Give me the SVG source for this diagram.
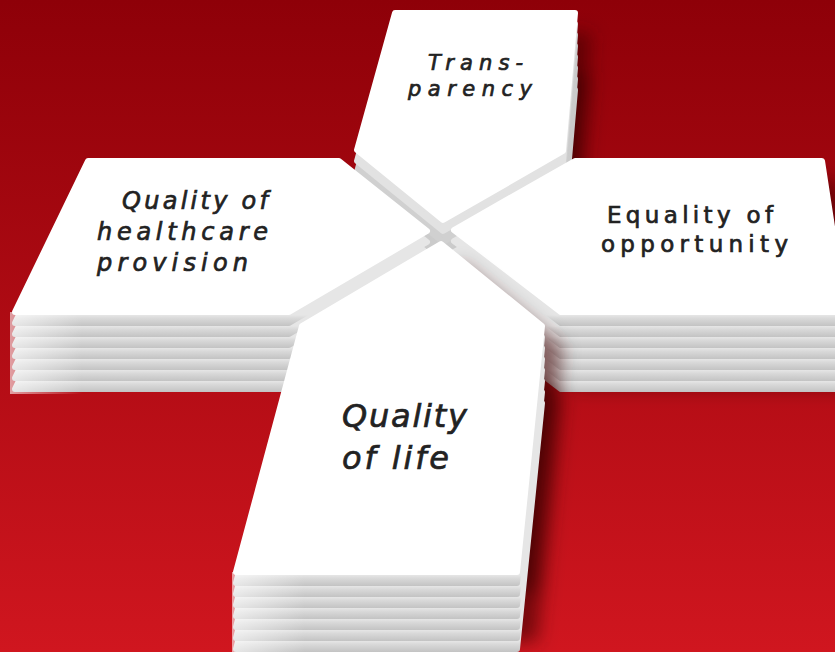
<svg xmlns="http://www.w3.org/2000/svg" xmlns:xlink="http://www.w3.org/1999/xlink" width="835" height="652" viewBox="0 0 835 652">
<style>
.face{fill:#ffffff;stroke:#ffffff;stroke-width:6;stroke-linejoin:round}
.stT{stroke-width:6;stroke-linejoin:round}
.sh{fill:#3a0003;opacity:0.6}
.lbl{font-family:"DejaVu Sans","Open Sans",sans-serif;fill:#222222;stroke:#222222;stroke-width:0.7}
.it{font-style:italic}
</style>
<defs>
  <linearGradient id="bg" x1="0" y1="0" x2="0" y2="1">
    <stop offset="0" stop-color="#8e0008"/>
    <stop offset="1" stop-color="#d0161f"/>
  </linearGradient>
  <linearGradient id="gLR" gradientUnits="userSpaceOnUse" x1="0" y1="304" x2="0" y2="315">
    <stop offset="0" stop-color="#e6e6e6"/>
    <stop offset="0.3" stop-color="#d9d9d9"/>
    <stop offset="1" stop-color="#c3c3c3"/>
  </linearGradient>
  <linearGradient id="gB" gradientUnits="userSpaceOnUse" x1="0" y1="564" x2="0" y2="575">
    <stop offset="0" stop-color="#e6e6e6"/>
    <stop offset="0.3" stop-color="#d9d9d9"/>
    <stop offset="1" stop-color="#c3c3c3"/>
  </linearGradient>
  <linearGradient id="hl" x1="0" y1="0" x2="1" y2="0">
    <stop offset="0" stop-color="#ffffff" stop-opacity="0.6"/>
    <stop offset="0.25" stop-color="#ffffff" stop-opacity="0"/>
  </linearGradient>
  <filter id="blur" x="-40%" y="-40%" width="180%" height="180%">
    <feGaussianBlur stdDeviation="9"/>
  </filter>
  <path id="fT" d="M395,13 L575,13 L563,151 L443,220 L357,150 Z"/>
  <path id="fL" d="M88,161 L339,161 L427,231 L289,312 L15,312 Z"/>
  <path id="fR" d="M575,161 L822,161 L845,312 L561,312 L454,230 Z"/>
  <path id="fB" d="M302,326 L441,244 L542,326 L517,572 L236,572 Z"/>
</defs>

<rect x="0" y="0" width="835" height="652" fill="url(#bg)"/>

<g id="card-transparency">
  <g filter="url(#blur)">
    <use xlink:href="#fT" class="sh" transform="translate(16,20)"/>
    <use xlink:href="#fT" class="sh" transform="translate(16,60)"/>
  </g>
  <g fill="#cbcbcb" stroke="#cbcbcb" class="stT">
    <use xlink:href="#fT" transform="translate(0,77)"/>
    <use xlink:href="#fT" transform="translate(0,66)"/>
    <use xlink:href="#fT" transform="translate(0,55)"/>
    <use xlink:href="#fT" transform="translate(0,44)"/>
    <use xlink:href="#fT" transform="translate(0,33)"/>
    <use xlink:href="#fT" transform="translate(0,22)" fill="#d0d0d0" stroke="#d0d0d0"/>
    <use xlink:href="#fT" transform="translate(0,11)" fill="#e2e2e2" stroke="#e2e2e2"/>
  </g>
  <use xlink:href="#fT" class="face"/>
  <text class="lbl it" font-size="21" x="428" y="70" textLength="95" lengthAdjust="spacing">Trans-</text>
  <text class="lbl it" font-size="21" x="408" y="96" textLength="124" lengthAdjust="spacing">parency</text>
</g>

<g id="card-healthcare">
  <g fill="url(#gLR)" stroke="url(#gLR)" class="stT">
    <use xlink:href="#fL" transform="translate(0,77)"/>
    <use xlink:href="#fL" transform="translate(0,66)"/>
    <use xlink:href="#fL" transform="translate(0,55)"/>
    <use xlink:href="#fL" transform="translate(0,44)"/>
    <use xlink:href="#fL" transform="translate(0,33)"/>
    <use xlink:href="#fL" transform="translate(0,22)"/>
    <use xlink:href="#fL" transform="translate(0,11)"/>
  </g>
  <rect x="10" y="312" width="290" height="82" fill="url(#hl)"/>
  <use xlink:href="#fL" class="face"/>
  <text class="lbl it" font-size="24" x="122" y="209" textLength="146" lengthAdjust="spacing">Quality of</text>
  <text class="lbl it" font-size="24" x="97" y="240" textLength="171" lengthAdjust="spacing">healthcare</text>
  <text class="lbl it" font-size="24" x="97" y="271" textLength="151" lengthAdjust="spacing">provision</text>
</g>

<g id="card-equality">
  <g filter="url(#blur)">
    <use xlink:href="#fR" class="sh" transform="translate(16,20)"/>
    <use xlink:href="#fR" class="sh" transform="translate(16,75)"/>
  </g>
  <g fill="url(#gLR)" stroke="url(#gLR)" class="stT">
    <use xlink:href="#fR" transform="translate(0,77)"/>
    <use xlink:href="#fR" transform="translate(0,66)"/>
    <use xlink:href="#fR" transform="translate(0,55)"/>
    <use xlink:href="#fR" transform="translate(0,44)"/>
    <use xlink:href="#fR" transform="translate(0,33)"/>
    <use xlink:href="#fR" transform="translate(0,22)"/>
    <use xlink:href="#fR" transform="translate(0,11)"/>
  </g>
  <use xlink:href="#fR" class="face"/>
  <text class="lbl" font-size="23" x="607" y="223" textLength="166" lengthAdjust="spacing">Equality of</text>
  <text class="lbl" font-size="23" x="601" y="252" textLength="187" lengthAdjust="spacing">opportunity</text>
</g>

<g id="card-life">
  <g filter="url(#blur)">
    <use xlink:href="#fB" class="sh" transform="translate(20,20)"/>
    <use xlink:href="#fB" class="sh" transform="translate(20,70)"/>
  </g>
  <g fill="url(#gB)" stroke="url(#gB)" class="stT">
    <use xlink:href="#fB" transform="translate(0,77)"/>
    <use xlink:href="#fB" transform="translate(0,66)"/>
    <use xlink:href="#fB" transform="translate(0,55)"/>
    <use xlink:href="#fB" transform="translate(0,44)"/>
    <use xlink:href="#fB" transform="translate(0,33)"/>
    <use xlink:href="#fB" transform="translate(0,22)"/>
    <use xlink:href="#fB" transform="translate(0,11)"/>
  </g>
  <rect x="232" y="572" width="292" height="82" fill="url(#hl)"/>
  <use xlink:href="#fB" class="face"/>
  <text class="lbl it" font-size="32" x="342" y="427" textLength="125" lengthAdjust="spacing">Quality</text>
  <text class="lbl it" font-size="32" x="342" y="469" textLength="107" lengthAdjust="spacing">of life</text>
</g>

<g id="connectors"/>
</svg>
